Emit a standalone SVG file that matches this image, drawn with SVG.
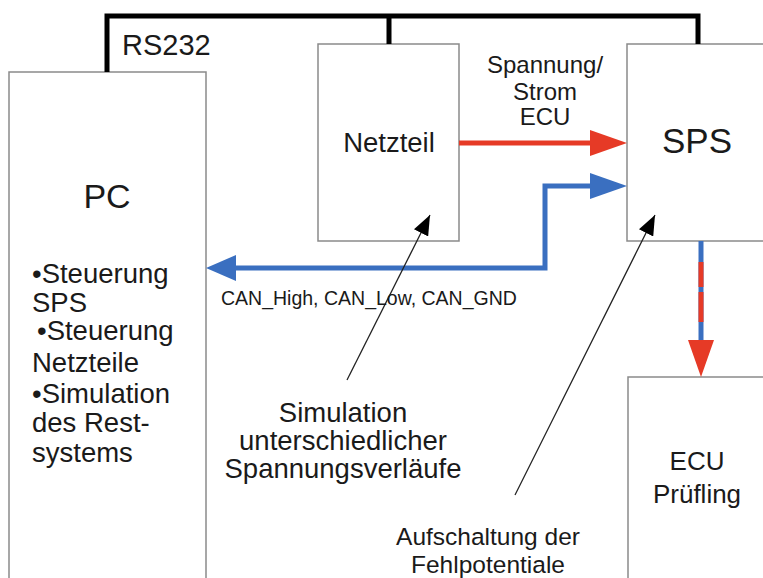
<svg xmlns="http://www.w3.org/2000/svg" width="763" height="578" viewBox="0 0 763 578">
<defs>
<style>
.box{fill:#fff;stroke:#8a8a8a;stroke-width:1.5}
.t{font-family:"Liberation Sans",Arial,sans-serif;fill:#1a1a1a}
.c{text-anchor:middle}
.rs{fill:none;stroke:#000;stroke-width:5}
.blue{fill:none;stroke:#3a6fc0;stroke-width:5}
.red{fill:none;stroke:#e63a26;stroke-width:5}
.thin{fill:none;stroke:#222;stroke-width:1.3}
</style>
<marker id="ah" viewBox="0 0 10 10" refX="10" refY="5" markerWidth="20" markerHeight="16" markerUnits="userSpaceOnUse" orient="auto" preserveAspectRatio="none">
<path d="M0,0 L10,5 L0,10 Z" fill="#000"/>
</marker>
</defs>
<rect width="763" height="578" fill="#fff"/>
<g id="pc">
<rect class="box" x="9" y="72" width="197" height="520"/>
<text class="t c" x="107" y="208" font-size="34">PC</text>
<text class="t" x="32" y="283" font-size="27.5">•Steuerung</text>
<text class="t" x="32" y="312" font-size="27.5">SPS</text>
<text class="t" x="37" y="340" font-size="27.5">•Steuerung</text>
<text class="t" x="32" y="372" font-size="27.5">Netzteile</text>
<text class="t" x="32" y="403" font-size="27.5">•Simulation</text>
<text class="t" x="32" y="432" font-size="27.5">des Rest-</text>
<text class="t" x="32" y="462" font-size="27.5">systems</text>
</g>
<g id="netzteil">
<rect class="box" x="318" y="44" width="141" height="197"/>
<text class="t c" x="389" y="152" font-size="27.5">Netzteil</text>
</g>
<g id="sps">
<rect class="box" x="627" y="44" width="150" height="197"/>
<text class="t c" x="697" y="153" font-size="35">SPS</text>
</g>
<g id="ecu">
<rect class="box" x="628" y="377" width="150" height="220"/>
<text class="t c" x="697" y="470" font-size="26">ECU</text>
<text class="t c" x="697" y="503" font-size="26">Prüfling</text>
</g>
<g id="connectors">
<path class="rs" d="M107,72 V16 H698 V44 M389,16 V44"/>
<path class="red" d="M459,143 H592"/>
<path d="M627,143 L590,130 L590,156 Z" fill="#e63a26"/>
<path class="blue" d="M232,268 H545 V186 H592"/>
<path d="M206,268 L236,255 L236,281 Z" fill="#3a6fc0"/>
<path d="M627,186 L590,173 L590,199 Z" fill="#3a6fc0"/>
<path d="M701,241 V342" stroke="#3a6fc0" stroke-width="5"/>
<path d="M701,262 V287 M701,292 V322" stroke="#e63a26" stroke-width="5"/>
<path d="M701,377 L688,340 L714,340 Z" fill="#e63a26"/>
<line class="thin" x1="347" y1="380" x2="430" y2="215" marker-end="url(#ah)"/>
<line class="thin" x1="515" y1="495" x2="655" y2="215" marker-end="url(#ah)"/>
</g>
<g id="labels">
<text class="t" x="122" y="55" font-size="29">RS232</text>
<text class="t c" x="545" y="73" font-size="24">Spannung/</text>
<text class="t c" x="545" y="100" font-size="24">Strom</text>
<text class="t c" x="545" y="125" font-size="24">ECU</text>
<text class="t" x="221" y="305" font-size="19.5">CAN_High, CAN_Low, CAN_GND</text>
<text class="t c" x="343" y="422" font-size="27.5">Simulation</text>
<text class="t c" x="343" y="450" font-size="27.5">unterschiedlicher</text>
<text class="t c" x="343" y="478" font-size="27.5">Spannungsverläufe</text>
<text class="t c" x="488" y="545" font-size="24.5">Aufschaltung der</text>
<text class="t c" x="488" y="573" font-size="24.5">Fehlpotentiale</text>
</g>
</svg>
